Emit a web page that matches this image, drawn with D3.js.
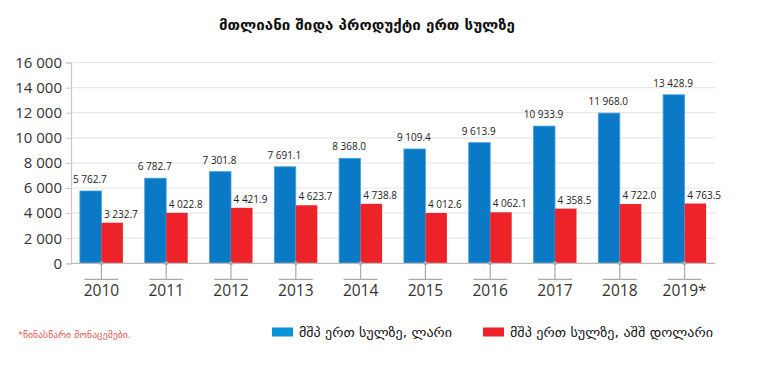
<!DOCTYPE html>
<html><head><meta charset="utf-8">
<script src="https://cdn.jsdelivr.net/npm/d3@7"></script>
<style>body{margin:0;background:#fff}svg{display:block}</style>
</head><body><svg id="c" width="760" height="378"></svg>
<script>
const years = ["2010","2011","2012","2013","2014","2015","2016","2017","2018","2019*"];
const gelValues = [5762.7,6782.7,7301.8,7691.1,8368.0,9109.4,9613.9,10933.9,11968.0,13428.9];
const usdValues = [3232.7,4022.8,4421.9,4623.7,4738.8,4012.6,4062.1,4358.5,4722.0,4763.5];
const yTicks = [0,2000,4000,6000,8000,10000,12000,14000,16000];
const seriesNames = ["მშპ ერთ სულზე, ლარი","მშპ ერთ სულზე, აშშ დოლარი"];
const title = "მთლიანი შიდა პროდუქტი ერთ სულზე";
const note = "*წინასწარი მონაცემები.";
const colors = ["#0a79c6","#ee2229"];

const loc = d3.formatLocale({decimal:".",thousands:" ",grouping:[3],currency:["",""]});
const fInt = loc.format(",.0f"), fDec = loc.format(",.1f");

const svg = d3.select("#c");
const L=71,R=715,T=62.5,B=263.3;
const x = d3.scaleBand().domain(years).range([L-2,R+2]).paddingInner(0).paddingOuter(0);
const y = d3.scaleLinear().domain([0,16000]).range([B,T]);
const bw = 21.5;
const font = "'Open Sans','Noto Sans',sans-serif";

svg.append("text").attr("x",219).attr("y",30)
  .attr("font-family","DejaVu Sans").attr("font-weight","bold").attr("font-size",14).attr("fill","#111")
  .attr("textLength",296).attr("lengthAdjust","spacingAndGlyphs").text(title);

// grid
svg.append("g").selectAll("line").data(yTicks.slice(1)).join("line")
  .attr("x1",L).attr("x2",R).attr("y1",d=>y(d)).attr("y2",d=>y(d))
  .attr("stroke","#e8e8e8").attr("stroke-width",1.2);

// y axis
const ya = svg.append("g").attr("transform",`translate(${L},0)`)
  .call(d3.axisLeft(y).tickValues(yTicks).tickFormat(fInt).tickSize(5).tickPadding(4));
ya.select(".domain").attr("stroke","#c8c8c8").attr("stroke-width",1.2);
ya.selectAll(".tick line").attr("stroke","#c8c8c8");
ya.selectAll("text").attr("font-family",font).attr("font-size",15).attr("fill","#333");

// bars
const cx = d=>x(d)+x.bandwidth()/2;
svg.append("g").selectAll("rect").data(years).join("rect")
  .attr("x",d=>cx(d)-bw).attr("width",bw)
  .attr("y",(d,i)=>y(gelValues[i])).attr("height",(d,i)=>B-y(gelValues[i]))
  .attr("fill",colors[0]).attr("stroke","#4aa3dc").attr("stroke-width",0.8);
svg.append("g").selectAll("rect").data(years).join("rect")
  .attr("x",d=>cx(d)).attr("width",bw)
  .attr("y",(d,i)=>y(usdValues[i])).attr("height",(d,i)=>B-y(usdValues[i]))
  .attr("fill",colors[1]);

// value labels
svg.append("g").selectAll("text").data(years).join("text")
  .attr("x",d=>cx(d)-11.5).attr("y",(d,i)=>y(gelValues[i])-8).attr("text-anchor","middle")
  .attr("font-family",font).attr("font-size",10).attr("fill","#222").text((d,i)=>fDec(gelValues[i]));
svg.append("g").selectAll("text").data(years).join("text")
  .attr("x",d=>cx(d)+19.5).attr("y",(d,i)=>y(usdValues[i])-5).attr("text-anchor","middle")
  .attr("font-family",font).attr("font-size",10).attr("fill","#222").text((d,i)=>fDec(usdValues[i]));

// x axis
svg.append("line").attr("x1",L).attr("x2",R).attr("y1",B).attr("y2",B).attr("stroke","#bbb").attr("stroke-width",1.2);
const xt = svg.append("g").selectAll("g").data(years).join("g").attr("transform",d=>`translate(${cx(d)},0)`);
xt.append("line").attr("y1",B).attr("y2",B+16).attr("stroke","#aaa").attr("stroke-width",1.2);
xt.append("line").attr("x1",-17).attr("x2",17).attr("y1",B+16).attr("y2",B+16).attr("stroke","#aaa").attr("stroke-width",1.2);
xt.append("circle").attr("cy",B).attr("r",2).attr("fill","#aaa");
xt.append("text").attr("y",B+33).attr("text-anchor","middle")
  .attr("font-family",font).attr("font-size",15.5).attr("fill","#333").text(d=>d);

// footnote
svg.append("text").attr("x",18).attr("y",338).attr("font-family","DejaVu Sans").attr("font-size",9)
  .attr("fill","#e05a5a").attr("textLength",113).attr("lengthAdjust","spacingAndGlyphs").text(note);

// legend
const lg = svg.append("g");
const lx = [272,483], lw = [153,203];
seriesNames.forEach((n,i)=>{
  lg.append("rect").attr("x",lx[i]).attr("y",327.5).attr("width",21).attr("height",9).attr("fill",i?colors[1]:"#0892d8");
  lg.append("text").attr("x",lx[i]+27).attr("y",336.5).attr("font-family","DejaVu Sans").attr("font-size",12.5)
    .attr("fill","#111").attr("textLength",lw[i]).attr("lengthAdjust","spacingAndGlyphs").text(n);
});
</script></body></html>
